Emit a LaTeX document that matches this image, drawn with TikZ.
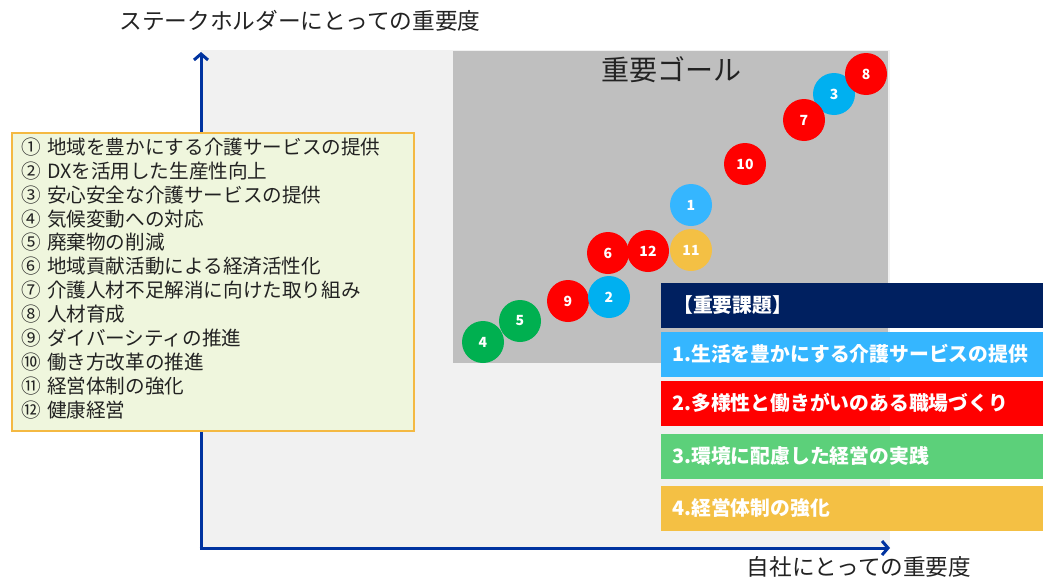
\documentclass[tikz,border=0pt]{standalone}
\usepackage{fontspec}
\setmainfont{Noto Sans CJK JP}
\usetikzlibrary{arrows.meta}
\definecolor{navy}{HTML}{002060}
\definecolor{axisblue}{HTML}{0033A0}
\definecolor{lblue}{HTML}{35B6FF}
\definecolor{cblue}{HTML}{00B0F0}
\definecolor{cred}{HTML}{FF0000}
\definecolor{cgreen}{HTML}{00B050}
\definecolor{bgreen}{HTML}{5CD07A}
\definecolor{corange}{HTML}{F4C044}
\definecolor{legfill}{HTML}{EFF6DD}
\definecolor{legdraw}{HTML}{F4B942}
\definecolor{lgray}{HTML}{F1F1F1}
\definecolor{dgray}{HTML}{BFBFBF}
\definecolor{txt}{HTML}{222222}
\tikzset{
  goal/.style={circle, minimum size=42pt, inner sep=0pt, text=white,
    font=\fontsize{14pt}{14pt}\selectfont\bfseries},
  bar/.style={minimum height=45pt, minimum width=383pt, anchor=north west,
    inner sep=0pt, text=white, outer sep=0pt},
  bartext/.style={anchor=west, text=white, inner sep=0pt,
    font=\fontsize{19.8pt}{20pt}\selectfont\bfseries},
  item/.style={anchor=west, inner sep=0pt, text=txt,
    font=\fontsize{19.6pt}{20pt}\selectfont},
  axis/.style={axisblue, line width=3pt,
    -{Straight Barb[length=6pt,width=14pt,line width=3pt]}},
}
\newcommand{\itm}[2]{\makebox[26pt][l]{#1}#2}
\begin{document}
\begin{tikzpicture}[x=1pt,y=-1pt]
\useasboundingbox (0,0) rectangle (1043,581);
% backgrounds
\fill[lgray] (201,50) rectangle (890,548);
\fill[dgray] (453,51) rectangle (888,363);
\node[font=\fontsize{28pt}{28pt}\selectfont, text=txt] (goaltitle) at (671,70) {重要ゴール};
% axes
\coordinate (origin) at (201,548);
\coordinate (ytop) at (201,52);
\coordinate (xend) at (890,548);
\draw[axis] (origin) -- (ytop);
\draw[axis] ([xshift=-1.5pt]origin) -- (xend);
\node[font=\fontsize{22.7pt}{23pt}\selectfont, text=txt] (ylabel) at (300,21) {ステークホルダーにとっての重要度};
\node[font=\fontsize{22.6pt}{23pt}\selectfont, text=txt] (xlabel) at (859,567) {自社にとっての重要度};
% legend
\node[draw=legdraw, line width=2pt, fill=legfill, minimum width=402pt,
  minimum height=298pt, anchor=north west, inner sep=0pt] (legend) at (11,132) {};
\node[item] (l1) at (21,147) {\itm{①}{地域を豊かにする介護サービスの提供}};
\node[item] (l2) at (21,171) {\itm{②}{DXを活用した生産性向上}};
\node[item] (l3) at (21,195) {\itm{③}{安心安全な介護サービスの提供}};
\node[item] (l4) at (21,219) {\itm{④}{気候変動への対応}};
\node[item] (l5) at (21,242.5) {\itm{⑤}{廃棄物の削減}};
\node[item] (l6) at (21,266.5) {\itm{⑥}{地域貢献活動による経済活性化}};
\node[item] (l7) at (21,290.5) {\itm{⑦}{介護人材不足解消に向けた取り組み}};
\node[item] (l8) at (21,314) {\itm{⑧}{人材育成}};
\node[item] (l9) at (21,338) {\itm{⑨}{ダイバーシティの推進}};
\node[item] (l10) at (21,362) {\itm{⑩}{働き方改革の推進}};
\node[item] (l11) at (21,386) {\itm{⑪}{経営体制の強化}};
\node[item] (l12) at (21,410) {\itm{⑫}{健康経営}};
% goal circles
\node[goal, fill=cblue] (c3) at (834,94) {3};
\node[goal, fill=cred] (c8) at (866,74) {8};
\node[goal, fill=cred] (c7) at (804,120) {7};
\node[goal, fill=cred] (c10) at (745,164) {10};
\node[goal, fill=lblue] (c1) at (691,205) {1};
\node[goal, fill=cred] (c6) at (608,253) {6};
\node[goal, fill=cred] (c12) at (648,251) {12};
\node[goal, fill=corange] (c11) at (691,250) {11};
\node[goal, fill=cred] (c9) at (568,301) {9};
\node[goal, fill=cblue] (c2) at (609,297) {2};
\node[goal, fill=cgreen] (c4) at (483,342) {4};
\node[goal, fill=cgreen] (c5) at (520,321) {5};
% key issues panel
\node[bar, fill=navy] (b0) at (661,283) {};
\node[bar, fill=lblue] (b1) at (661,332) {};
\node[bar, fill=cred] (b2) at (661,381) {};
\node[bar, fill=bgreen] (b3) at (661,434) {};
\node[bar, fill=corange] (b4) at (661,486) {};
\node[bartext] (t0) at (673,305) {【重要課題】};
\node[bartext] (t1) at (672,354) {1.生活を豊かにする介護サービスの提供};
\node[bartext] (t2) at (672,403) {2.多様性と働きがいのある職場づくり};
\node[bartext] (t3) at (672,456) {3.環境に配慮した経営の実践};
\node[bartext] (t4) at (672,508) {4.経営体制の強化};
\end{tikzpicture}
\end{document}
